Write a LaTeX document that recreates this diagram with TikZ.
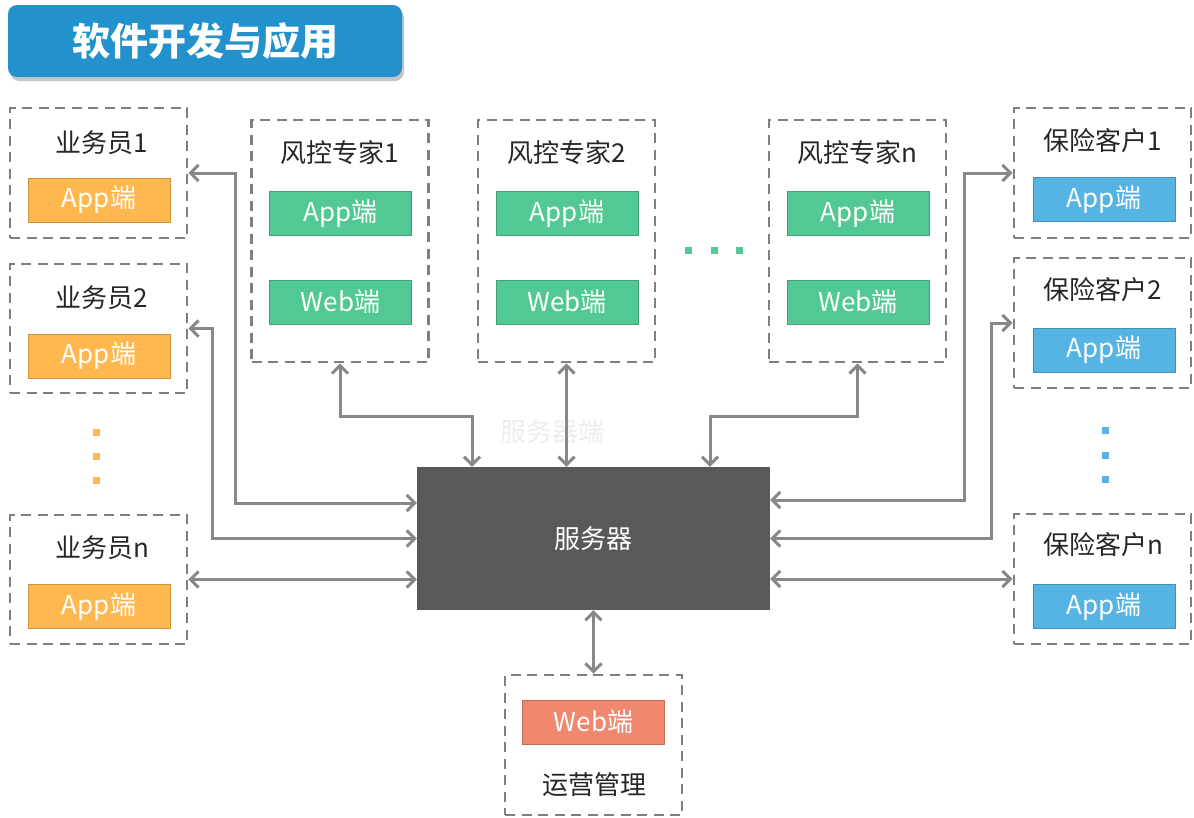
\documentclass[tikz,border=0pt]{standalone}
\usepackage{fontspec}
\setmainfont{Noto Sans CJK SC}
\usepackage{tikz}
\usetikzlibrary{positioning,shadows,arrows.meta,calc}
\definecolor{titleblue}{HTML}{2391CB}
\definecolor{appor}{HTML}{FFB84F}
\definecolor{appgr}{HTML}{52C994}
\definecolor{appbl}{HTML}{56B4E4}
\definecolor{websa}{HTML}{F08870}
\definecolor{srvgray}{HTML}{595959}
\definecolor{linegray}{HTML}{888888}
\definecolor{dashgray}{HTML}{7F7F7F}
\def\lbl{\fontsize{26}{31}\selectfont}
\tikzset{
    group/.style={draw=dashgray, line width=2.8pt, dash pattern=on 10pt off 6.5pt, minimum width=177, minimum height=130},
    term/.style={draw=#1!80!black, fill=#1, line width=1pt, text=white, minimum width=142, minimum height=44, inner sep=0pt, font=\lbl},
    label/.style={font=\lbl, text=black!85},
    dot/.style={fill=#1, minimum size=7pt, inner sep=0pt},
    link/.style={draw=linegray, line width=3pt, {Straight Barb[length=8pt,width=16pt]}-{Straight Barb[length=8pt,width=16pt]}},
}

\begin{document}
\begin{tikzpicture}[x=1pt, y=-1pt]
    \useasboundingbox (0,0) rectangle (1194,817);

    \node[fill=titleblue, rounded corners=9pt, minimum width=394, minimum height=72, drop shadow={opacity=0.45, shadow xshift=2pt, shadow yshift=-4pt}, text=white, font=\fontsize{38}{45}\selectfont\bfseries] (title) at (205,41) {软件开发与应用};

    % server
    \node[fill=srvgray, minimum width=353, minimum height=143, text=white, font=\lbl] (server) at (593.5,538.5) {服务器};
    \node[font=\lbl, text=black!7] (ghost) at (552,432) {服务器端};

    % sales staff
    \node[group] (yw1) at (98.5,173) {};
    \node[label] (yw1l) at (102,143) {业务员1};
    \node[term=appor] (yw1a) at (99,200) {App端};
    \node[group, minimum height=129] (yw2) at (98.5,328.5) {};
    \node[label] (yw2l) at (102,298) {业务员2};
    \node[term=appor] (yw2a) at (99,356) {App端};
    \foreach \y in {432,456,480} \node[dot=appor] at (96,\y) {};
    \node[group, minimum height=129] (ywn) at (98.5,579.5) {};
    \node[label] (ywnl) at (102,548) {业务员n};
    \node[term=appor] (ywna) at (99,606.5) {App端};

    % risk experts
    \foreach \n/\x/\t in {fk1/340/1, fk2/566.5/2, fkn/857.5/n} {
        \node[group, minimum height=242] (\n) at (\x,241) {};
        \node[label] (\n l) at (\x,153) {风控专家\t};
        \node[term=appgr] (\n a) at (\x+0.5,213.5) {App端};
        \node[term=appgr] (\n w) at (\x+0.5,302) {Web端};
    }
    \foreach \x in {688,714,739} \node[dot=appgr] at (\x,250) {};

    % insurance clients
    \node[group] (kh1) at (1102.5,173) {};
    \node[label] (kh1l) at (1103,141) {保险客户1};
    \node[term=appbl] (kh1a) at (1104,199.5) {App端};
    \node[group] (kh2) at (1102.5,323) {};
    \node[label] (kh2l) at (1103,290) {保险客户2};
    \node[term=appbl] (kh2a) at (1104,350) {App端};
    \foreach \y in {430,455,479} \node[dot=appbl] at (1105,\y) {};
    \node[group] (khn) at (1102.5,579) {};
    \node[label] (khnl) at (1103,545) {保险客户n};
    \node[term=appbl] (khna) at (1104,606.5) {App端};

    % operations
    \node[group, minimum height=140] (yy) at (593.5,745) {};
    \node[term=websa] (yyw) at (593.5,722) {Web端};
    \node[label] (yyl) at (594,785) {运营管理};

    \draw[link] (yw1.east) -- ++(47,0) |- ([yshift=35.5pt]server.west);
    \draw[link] (yw2.east) -- ++(24,0) |- (server.west);
    \draw[link] (ywn.east) -- (server.west |- ywn.east);
    \draw[link] (fk1.south) -- ++(0,53) -| ([xshift=-121.5pt]server.north);
    \draw[link] (fk2.south) -- (fk2.south |- server.north);
    \draw[link] (fkn.south) -- ++(0,53) -| ([xshift=116.5pt]server.north);
    \draw[link] (kh1.west) -- ++(-48,0) |- ([yshift=38.5pt]server.east);
    \draw[link] (kh2.west) -- ++(-21,0) |- (server.east);
    \draw[link] (khn.west) -- (server.east |- khn.west);
    \draw[link] (server.south) -- (yy.north);
\end{tikzpicture}
\end{document}
